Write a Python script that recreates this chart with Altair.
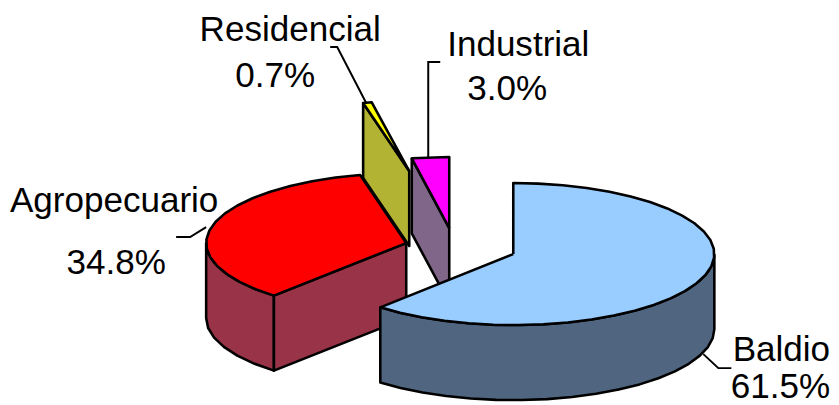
import math
import altair as alt
import pandas as pd

# Chart data
categories = ["Baldio", "Agropecuario", "Residencial", "Industrial"]
shares = [61.5, 34.8, 0.7, 3.0]
label_shares = ["61.5%", "34.8%", "0.7%", "3.0%"]

# Style
top_colors = {"Baldio": "#99CCFF", "Agropecuario": "#FF0000", "Residencial": "#FFFF00", "Industrial": "#FF00FF"}
side_colors = {"Baldio": "#506680", "Agropecuario": "#993348", "Residencial": "#B2B233", "Industrial": "#806688"}
centres = {"Baldio": (513, 254), "Agropecuario": (406, 243), "Residencial": (409, 171), "Industrial": (449, 228)}
radii = {"Baldio": (201, 71), "Agropecuario": (200, 70), "Residencial": (200, 70), "Industrial": (200, 71)}
DEPTH = 75
name_pos = {"Baldio": (781, 361), "Agropecuario": (114, 212), "Residencial": (290, 41), "Industrial": (518, 56)}
share_pos = {"Baldio": (780, 398), "Agropecuario": (116, 274), "Residencial": (275, 87), "Industrial": (507, 100)}
leaders = {
    "Baldio": [(731, 368), (718, 368), (703, 354)],
    "Agropecuario": [(176, 237), (190, 237), (206, 227)],
    "Residencial": [(330, 47), (337, 47), (366, 103)],
    "Industrial": [(440, 62), (428, 62), (428, 157)],
}

S = 0.99
X = alt.Scale(domain=[8 * S, 839 * S], range=[0, 831], nice=False, zero=False)
Y = alt.Scale(domain=[405 * S + 2, 8 * S + 2], range=[397, 0], nice=False, zero=False)


def poly(points, fill, width=2.6):
    df = pd.DataFrame(points, columns=["x", "y"])
    df["i"] = range(len(df))
    return alt.Chart(df).mark_line(
        fill=fill, stroke="black", strokeWidth=width, strokeJoin="round", clip=False
    ).encode(
        x=alt.X("x:Q", scale=X, axis=None),
        y=alt.Y("y:Q", scale=Y, axis=None),
        order="i:Q",
    )


def rim(name, a0, a1, step=7.0):
    cx, cy = centres[name]
    rx, ry = radii[name]
    n = max(1, int(abs(a1 - a0) / step))
    return [
        (cx + rx * math.sin(math.radians(a0 + (a1 - a0) * k / n)),
         cy - ry * math.cos(math.radians(a0 + (a1 - a0) * k / n)))
        for k in range(n + 1)
    ]


def down(points):
    return [(x, y + DEPTH) for x, y in points]


spans = {}
acc = 0.0
for cat, val in zip(categories, shares):
    spans[cat] = (acc * 3.6, (acc + val) * 3.6)
    acc += val

layers = []
# Industrial
a0, a1 = spans["Industrial"]
r = rim("Industrial", a0, a1)
c = centres["Industrial"]
layers.append(poly([r[0], c, (c[0], c[1] + DEPTH), down(r)[0], r[0]], side_colors["Industrial"]))
layers.append(poly([c] + r + [c], top_colors["Industrial"]))
# Residencial
a0, a1 = spans["Residencial"]
r = rim("Residencial", a0, a1)
c = centres["Residencial"]
layers.append(poly([r[0], c, (c[0], c[1] + DEPTH), down(r)[0], r[0]], side_colors["Residencial"]))
layers.append(poly([c] + r + [c], top_colors["Residencial"]))
# Agropecuario
a0, a1 = spans["Agropecuario"]
r = rim("Agropecuario", a0, a1)
c = centres["Agropecuario"]
outer = rim("Agropecuario", a0, 270)
layers.append(poly(outer + down(outer)[::-1] + [outer[0]], side_colors["Agropecuario"]))
layers.append(poly([c, r[0], down(r)[0], (c[0], c[1] + DEPTH), c], side_colors["Agropecuario"]))
layers.append(poly([c] + r + [c], top_colors["Agropecuario"]))
# Baldio
a0, a1 = spans["Baldio"]
r = rim("Baldio", a0, a1)
c = centres["Baldio"]
outer = rim("Baldio", 90, a1)
layers.append(poly(outer + down(outer)[::-1] + [outer[0]], side_colors["Baldio"]))
layers.append(poly([c] + r + [c], top_colors["Baldio"]))

# Leader lines
for cat in categories:
    df = pd.DataFrame(leaders[cat], columns=["x", "y"])
    df["i"] = range(len(df))
    layers.append(
        alt.Chart(df).mark_line(color="black", strokeWidth=2).encode(
            x=alt.X("x:Q", scale=X, axis=None),
            y=alt.Y("y:Q", scale=Y, axis=None),
            order="i:Q",
        )
    )

# Labels
rows = []
for cat, share in zip(categories, label_shares):
    rows.append({"x": name_pos[cat][0], "y": name_pos[cat][1], "t": cat})
    rows.append({"x": share_pos[cat][0], "y": share_pos[cat][1], "t": share})
layers.append(
    alt.Chart(pd.DataFrame(rows)).mark_text(
        font="Liberation Sans", fontSize=35.4, color="black", align="center", baseline="alphabetic"
    ).encode(
        x=alt.X("x:Q", scale=X, axis=None),
        y=alt.Y("y:Q", scale=Y, axis=None),
        text="t:N",
    )
)

chart = alt.layer(*layers).properties(
    width=831, height=397, padding=0, autosize=alt.AutoSizeParams(type="none")
).configure_view(stroke=None)

chart.save("out.html", embed_options={"renderer": "svg", "actions": False})
